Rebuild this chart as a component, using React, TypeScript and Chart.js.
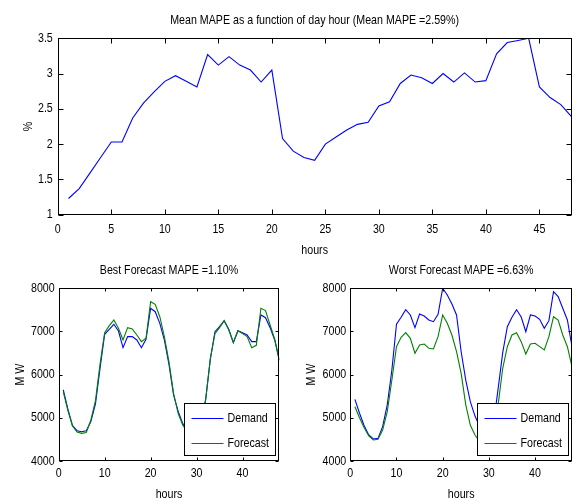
import React, { useEffect, useRef } from 'react';
import { Chart, registerables } from 'chart.js';

Chart.register(...registerables);

const FONT_FAMILY = "'Liberation Sans', Arial, sans-serif";
const FONT_SIZE = 13;
const NARROW = 0.82; // horizontal squeeze to mimic a narrow Helvetica/Arial face

// ---------- data ----------
const HOURS = [
  1, 2, 3, 4, 5, 6, 7, 8, 9, 10, 11, 12, 13, 14, 15, 16, 17, 18, 19, 20, 21, 22, 23, 24,
  25, 26, 27, 28, 29, 30, 31, 32, 33, 34, 35, 36, 37, 38, 39, 40, 41, 42, 43, 44, 45, 46, 47, 48,
];

const MEAN_MAPE = [
  1.23, 1.37, 1.59, 1.81, 2.03, 2.03, 2.37, 2.58, 2.74, 2.89, 2.97, 2.89,
  2.81, 3.27, 3.12, 3.24, 3.12, 3.05, 2.88, 3.05, 2.08, 1.9, 1.81, 1.77,
  2.0, 2.1, 2.2, 2.28, 2.31, 2.54, 2.6, 2.86, 2.98, 2.94, 2.86, 3.0,
  2.88, 3.01, 2.88, 2.9, 3.28, 3.44, 3.47, 3.5, 2.81, 2.66, 2.56, 2.39,
];

const BEST_DEMAND = [
  5645, 5200, 4818, 4702, 4679, 4702, 4911, 5320, 6147, 6935, 7050, 7166,
  7011, 6625, 6880, 6880, 6803, 6625, 6819, 7537, 7458, 7189, 6800, 6230,
  5524, 5150, 4866, 4700, 4620, 4650, 4850, 5450, 6360, 6995, 7111, 7250,
  7050, 6741, 7018, 6972, 6918, 6764, 6764, 7382, 7320, 7088, 6803, 6330,
];

const BEST_FORECAST = [
  5600, 5170, 4812, 4673, 4640, 4660, 4950, 5400, 6250, 6973, 7134, 7266,
  7074, 6803, 7088, 7057, 6918, 6764, 6842, 7690, 7628, 7342, 6878, 6298,
  5563, 5099, 4828, 4680, 4600, 4640, 4830, 5430, 6380, 6950, 7090, 7250,
  7040, 6747, 7018, 6950, 6880, 6625, 6680, 7537, 7483, 7150, 6820, 6340,
];

const WORST_DEMAND = [
  5429, 5105, 4818, 4602, 4510, 4525, 4795, 5298, 6108, 7166, 7328, 7504,
  7382, 7088, 7405, 7359, 7266, 7227, 7397, 8000, 7845, 7636, 7382, 6530,
  5872, 5369, 5040, 4800, 4650, 4600, 4850, 5670, 6509, 7111, 7328, 7504,
  7336, 6995, 7382, 7359, 7282, 7074, 7250, 7923, 7807, 7537, 7266, 6648,
];

const WORST_FORECAST = [
  5258, 5003, 4772, 4579, 4487, 4502, 4718, 5142, 5876, 6648, 6865, 6972,
  6842, 6495, 6687, 6710, 6610, 6594, 6880, 7382, 7189, 6918, 6533, 6031,
  5300, 4828, 4600, 4450, 4380, 4400, 4600, 5300, 6147, 6648, 6918, 6972,
  6764, 6478, 6710, 6726, 6648, 6571, 6880, 7342, 7266, 6918, 6648, 6184,
];

const TOP_X_TICKS = [0, 5, 10, 15, 20, 25, 30, 35, 40, 45];
const TOP_Y_TICKS = [1, 1.5, 2, 2.5, 3, 3.5];
const BOTTOM_X_TICKS = [0, 10, 20, 30, 40];
const BOTTOM_Y_TICKS = [4000, 5000, 6000, 7000, 8000];

const TOP_TITLE = 'Mean MAPE as a function of day hour (Mean MAPE =2.59%)';
const BEST_TITLE = 'Best Forecast MAPE =1.10%';
const WORST_TITLE = 'Worst Forecast MAPE =6.63%';
const LEGEND_LABELS = ['Demand', 'Forecast'];

const BLUE = '#0000ff';
const GREEN = '#008000';

// ---------- plugin: narrow text rendering ----------
const narrowTextPlugin = {
  id: 'narrowText',
  beforeInit(chart: any) {
    const ctx = chart.ctx;
    if (ctx.__narrow) return;
    const orig = ctx.fillText.bind(ctx);
    ctx.fillText = (text: string, x: number, y: number, maxWidth?: number) => {
      ctx.save();
      ctx.translate(x, y);
      ctx.scale(NARROW, 1);
      if (maxWidth === undefined || maxWidth === null) orig(text, 0, 0);
      else orig(text, 0, 0, maxWidth / NARROW);
      ctx.restore();
    };
    ctx.__narrow = true;
  },
};

// ---------- plugin: MATLAB-like box, inward ticks and boxed legend ----------
const framePlugin = {
  id: 'matlabFrame',
  afterDraw(chart: any, _args: any, opts: any) {
    const { ctx, chartArea: a } = chart;
    const L = Math.round(a.left) + 0.5;
    const R = Math.round(a.right) - 0.5;
    const T = Math.round(a.top) + 0.5;
    const B = Math.round(a.bottom) - 0.5;
    const len = opts.tickLen || 4;
    ctx.save();
    ctx.strokeStyle = '#000';
    ctx.lineWidth = 1;
    ctx.beginPath();
    const xs = chart.scales.x;
    xs.ticks.forEach((t: any) => {
      const p = Math.round(xs.getPixelForValue(t.value)) + 0.5;
      ctx.moveTo(p, B);
      ctx.lineTo(p, B - len);
      ctx.moveTo(p, T);
      ctx.lineTo(p, T + len);
    });
    const ys = chart.scales.y;
    ys.ticks.forEach((t: any) => {
      const p = Math.round(ys.getPixelForValue(t.value)) + 0.5;
      ctx.moveTo(L, p);
      ctx.lineTo(L + len, p);
      ctx.moveTo(R, p);
      ctx.lineTo(R - len, p);
    });
    ctx.stroke();
    ctx.strokeRect(L, T, R - L, B - T);

    if (opts.legend) {
      const lg = opts.legend;
      const bx = Math.round(a.right - lg.right - lg.width) + 0.5;
      const by = Math.round(a.bottom - lg.bottom - lg.height) + 0.5;
      ctx.fillStyle = '#fff';
      ctx.fillRect(bx, by, lg.width, lg.height);
      ctx.strokeStyle = '#000';
      ctx.strokeRect(bx, by, lg.width, lg.height);
      ctx.font = `${FONT_SIZE}px ${FONT_FAMILY}`;
      ctx.textBaseline = 'middle';
      ctx.textAlign = 'left';
      chart.data.datasets.forEach((ds: any, i: number) => {
        const y = Math.round(by + lg.firstRow + i * lg.rowGap) + 0.5;
        ctx.strokeStyle = ds.borderColor;
        ctx.beginPath();
        ctx.moveTo(bx + 7, y);
        ctx.lineTo(bx + 39, y);
        ctx.stroke();
        ctx.fillStyle = '#000';
        ctx.fillText(ds.label, bx + 43, y);
      });
    }
    ctx.restore();
  },
};

type PanelSpec = {
  width: number;
  height: number;
  title: string;
  titlePadTop: number;
  topHeight: number;
  bottomHeight: number;
  leftWidth: number;
  padRight: number;
  xMax: number;
  xTicks: number[];
  xTickPad: number;
  yMin: number;
  yMax: number;
  yTicks: number[];
  yTickPad: number;
  yTitle: string;
  yTitlePad: number;
  tickLen: number;
  datasets: { label: string; color: string; values: number[]; order: number }[];
  legend?: any;
};

const font = { family: FONT_FAMILY, size: FONT_SIZE, weight: 'normal' as const };

function makeConfig(s: PanelSpec): any {
  return {
    type: 'line',
    data: {
      datasets: s.datasets.map((d) => ({
        label: d.label,
        data: HOURS.map((h, i) => ({ x: h, y: d.values[i] })),
        borderColor: d.color,
        backgroundColor: d.color,
        borderWidth: 1.1,
        pointRadius: 0,
        tension: 0,
        fill: false,
        order: d.order,
      })),
    },
    options: {
      responsive: false,
      animation: false,
      devicePixelRatio: 1,
      layout: { padding: { left: 0, top: 0, right: s.padRight, bottom: 0 } },
      plugins: {
        legend: { display: false },
        tooltip: { enabled: false },
        title: { display: false },
        matlabFrame: { tickLen: s.tickLen, legend: s.legend },
      },
      scales: {
        x: {
          type: 'linear',
          position: 'bottom',
          min: 0,
          max: s.xMax,
          afterBuildTicks: (sc: any) => {
            sc.ticks = s.xTicks.map((value) => ({ value }));
          },
          afterFit: (sc: any) => {
            sc.height = s.bottomHeight;
          },
          grid: { display: false, drawTicks: false },
          border: { display: false },
          ticks: {
            font,
            color: '#000',
            padding: s.xTickPad,
            maxRotation: 0,
            autoSkip: false,
            callback: (v: any) => String(v),
          },
          title: { display: true, text: 'hours', font, color: '#000', padding: { top: 0, bottom: 0 } },
        },
        xTop: {
          type: 'linear',
          position: 'top',
          min: 0,
          max: s.xMax,
          afterFit: (sc: any) => {
            sc.height = s.topHeight;
          },
          grid: { display: false, drawTicks: false },
          border: { display: false },
          ticks: { display: false },
          title: { display: true, text: s.title, font, color: '#000', padding: { top: s.titlePadTop, bottom: 0 } },
        },
        y: {
          type: 'linear',
          position: 'left',
          min: s.yMin,
          max: s.yMax,
          afterBuildTicks: (sc: any) => {
            sc.ticks = s.yTicks.map((value) => ({ value }));
          },
          afterFit: (sc: any) => {
            sc.width = s.leftWidth;
          },
          grid: { display: false, drawTicks: false },
          border: { display: false },
          ticks: {
            font,
            color: '#000',
            padding: s.yTickPad,
            autoSkip: false,
            callback: (v: any) => String(v),
          },
          title: { display: true, text: s.yTitle, font, color: '#000', padding: { top: s.yTitlePad, bottom: 0 } },
        },
      },
    },
    plugins: [narrowTextPlugin, framePlugin],
  };
}

const legendSpec = { width: 91, height: 52, right: 4.5, bottom: 6.5, firstRow: 14.3, rowGap: 24.7 };

const TOP_SPEC: PanelSpec = {
  width: 581,
  height: 258,
  title: TOP_TITLE,
  titlePadTop: 12.7,
  topHeight: 38.3,
  bottomHeight: 43.3,
  leftWidth: 57.8,
  padRight: 9.5,
  xMax: 48,
  xTicks: TOP_X_TICKS,
  xTickPad: 6.8,
  yMin: 1,
  yMax: 3.5,
  yTicks: TOP_Y_TICKS,
  yTickPad: 5,
  yTitle: '%',
  yTitlePad: 20.2,
  tickLen: 5,
  datasets: [{ label: 'Mean MAPE', color: BLUE, values: MEAN_MAPE, order: 0 }],
};

const BEST_SPEC: PanelSpec = {
  width: 290,
  height: 244,
  title: BEST_TITLE,
  titlePadTop: 4.2,
  topHeight: 30.3,
  bottomHeight: 41,
  leftWidth: 58.7,
  padRight: 10.7,
  xMax: 48,
  xTicks: BOTTOM_X_TICKS,
  xTickPad: 4.5,
  yMin: 4000,
  yMax: 8000,
  yTicks: BOTTOM_Y_TICKS,
  yTickPad: 4,
  yTitle: 'M W',
  yTitlePad: 12.9,
  tickLen: 3,
  datasets: [
    { label: LEGEND_LABELS[0], color: BLUE, values: BEST_DEMAND, order: 1 },
    { label: LEGEND_LABELS[1], color: GREEN, values: BEST_FORECAST, order: 0 },
  ],
  legend: legendSpec,
};

const WORST_SPEC: PanelSpec = {
  ...BEST_SPEC,
  width: 291,
  title: WORST_TITLE,
  leftWidth: 60.3,
  padRight: 9,
  yTitlePad: 13.9,
  datasets: [
    { label: LEGEND_LABELS[0], color: BLUE, values: WORST_DEMAND, order: 1 },
    { label: LEGEND_LABELS[1], color: GREEN, values: WORST_FORECAST, order: 0 },
  ],
};

function Panel({ spec, left, top }: { spec: PanelSpec; left: number; top: number }) {
  const ref = useRef<HTMLCanvasElement | null>(null);
  useEffect(() => {
    if (!ref.current) return;
    const chart = new Chart(ref.current, makeConfig(spec));
    return () => chart.destroy();
  }, [spec]);
  return (
    <canvas
      ref={ref}
      width={spec.width}
      height={spec.height}
      style={{ position: 'absolute', left, top, width: spec.width, height: spec.height }}
    />
  );
}

export default function App() {
  return (
    <div style={{ position: 'absolute', left: 0, top: 0, width: 581, height: 502, background: '#fff' }}>
      <Panel spec={TOP_SPEC} left={0} top={0} />
      <Panel spec={BEST_SPEC} left={0} top={258} />
      <Panel spec={WORST_SPEC} left={290} top={258} />
    </div>
  );
}
